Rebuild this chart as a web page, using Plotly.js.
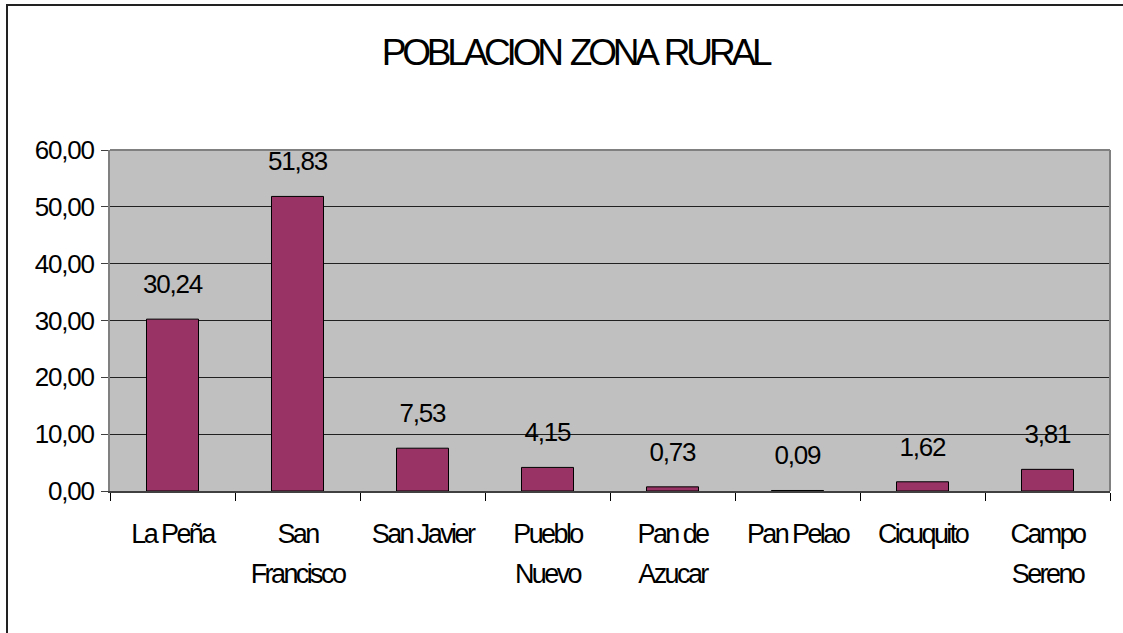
<!DOCTYPE html>
<html>
<head>
<meta charset="utf-8">
<script src="https://cdn.plot.ly/plotly-3.0.1.min.js"></script>
<style>
  body { margin: 0; padding: 0; background: #fff; }
  #wrap { position: relative; width: 1123px; height: 633px; overflow: hidden; }
  #chart { position: absolute; left: 0; top: 0; width: 1123px; height: 633px; }
  #frame { position: absolute; left: 6px; top: 4px; width: 1130px; height: 650px; border: 2px solid #222; pointer-events: none; }
  #chart .gtitle { letter-spacing: -4.2px; word-spacing: 4px; }
  #chart .xtick text { letter-spacing: -2.6px; }
  #chart .ytick text { letter-spacing: -1.2px; }
  #chart .annotation-text { letter-spacing: -1.2px; }
</style>
</head>
<body>
<div id="wrap">
  <div id="chart"></div>
  <div id="frame"></div>
</div>
<script>
const categories = ['La Peña', 'San<br>Francisco', 'San Javier', 'Pueblo<br>Nuevo', 'Pan de<br>Azucar', 'Pan Pelao', 'Cicuquito', 'Campo<br>Sereno'];
const values = [30.24, 51.83, 7.53, 4.15, 0.73, 0.09, 1.62, 3.81];
const yTicks = [0, 10, 20, 30, 40, 50, 60];
const titleText = 'POBLACION ZONA RURAL';

const FONT = '"Liberation Sans", Arial, sans-serif';

const trace = {
  type: 'bar',
  x: categories,
  y: values,
  marker: { color: '#993366', line: { color: '#000000', width: 1 } },
  hoverinfo: 'skip'
};

const annotations = values.map((v, i) => ({
  x: categories[i],
  y: v,
  xref: 'x',
  yref: 'y',
  text: v.toFixed(2).replace('.', ','),
  showarrow: false,
  yanchor: 'bottom',
  yshift: 18,
  font: { family: FONT, size: 26, color: '#000' }
}));

const layout = {
  width: 1123,
  height: 633,
  margin: { l: 110, r: 13, t: 150, b: 142 },
  paper_bgcolor: 'rgba(0,0,0,0)',
  plot_bgcolor: '#c0c0c0',
  separators: ',.',
  showlegend: false,
  bargap: 0.584,
  title: {
    text: titleText,
    x: 0.512,
    xanchor: 'center',
    y: 0.918,
    yanchor: 'middle',
    font: { family: FONT, size: 37, color: '#000' }
  },
  xaxis: {
    type: 'category',
    tickson: 'boundaries',
    tickangle: 0,
    ticks: 'outside',
    ticklen: 8,
    tickcolor: '#000',
    tickwidth: 1,
    showline: true,
    linecolor: '#404040',
    linewidth: 2,
    showgrid: false,
    ticklabelstandoff: 18,
    tickfont: { family: FONT, size: 27, color: '#000' }
  },
  yaxis: {
    range: [0, 60],
    tickvals: yTicks,
    tickformat: '.2f',
    ticks: 'outside',
    ticklen: 7,
    tickcolor: '#404040',
    showline: true,
    linecolor: '#808080',
    linewidth: 2,
    showgrid: true,
    gridcolor: '#202020',
    gridwidth: 1,
    zeroline: false,
    ticklabelstandoff: 2,
    tickfont: { family: FONT, size: 26, color: '#000' }
  },
  shapes: [
    { type: 'line', xref: 'paper', yref: 'paper', x0: 0, x1: 1, y0: 1, y1: 1, line: { color: '#808080', width: 2 } },
    { type: 'line', xref: 'paper', yref: 'paper', x0: 1, x1: 1, y0: 0, y1: 1, line: { color: '#808080', width: 2 } }
  ],
  annotations: annotations
};

Plotly.newPlot('chart', [trace], layout, { displayModeBar: false, staticPlot: true }).then(function (gd) {
  // widen the line spacing of two-line category labels
  gd.querySelectorAll('.xtick text tspan.line').forEach(function (t) {
    const dy = t.getAttribute('dy');
    if (dy && parseFloat(dy) > 0) {
      t.setAttribute('dy', (parseFloat(dy) / 1.3 * 1.48) + 'em');
    }
  });
});
</script>
</body>
</html>
